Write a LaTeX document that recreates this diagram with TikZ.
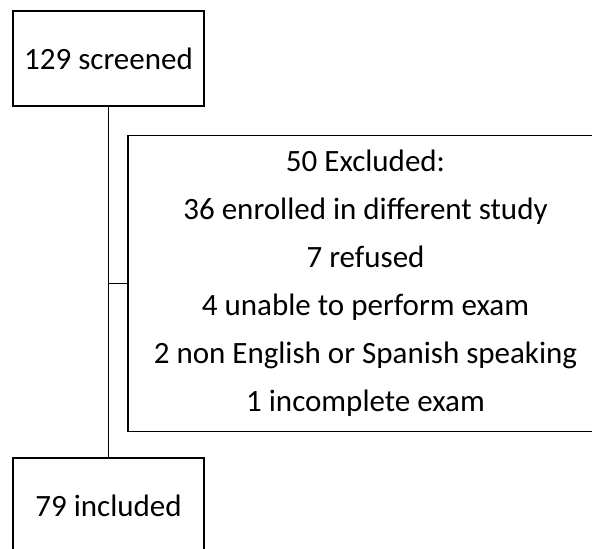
\documentclass[tikz,border=0pt]{standalone}
\usepackage{fontspec}
\setmainfont{Carlito}
\usepackage{tikz}
\usetikzlibrary{calc, positioning}
\tikzstyle{flowbox} = [rectangle, draw, line width=1.3pt, text centered, align=center, font=\fontsize{31}{48}\selectfont]

\begin{document}
\begin{tikzpicture}[x=1pt, y=-1pt]

        \useasboundingbox (0, 0) rectangle (592, 549);

        \node[flowbox, minimum width=191pt, minimum height=95pt] at (108.5, 58.5) (screened) {129 screened};
        \node[flowbox, minimum width=475pt, minimum height=296pt] at (365.5, 283.6) (excluded) {50 Excluded:\\36 enrolled in different study\\7 refused\\4 unable to perform exam\\2 non English or Spanish speaking\\1 incomplete exam};
        \node[flowbox, minimum width=191pt, minimum height=95pt] at (108.5, 505.5) (included) {79 included};

        \draw[line width=1.3pt] (screened) -- (included);
        \draw[line width=1.3pt] (excluded.west) -- (excluded.west -| screened.south);

    \end{tikzpicture}
\end{document}
